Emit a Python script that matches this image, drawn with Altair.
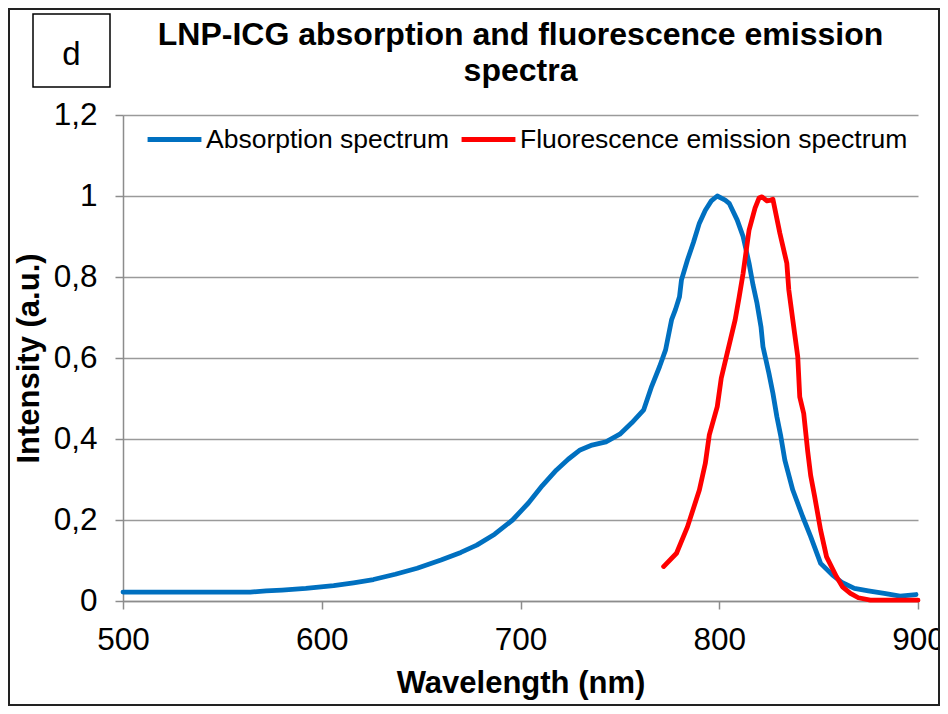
import altair as alt
import pandas as pd

# ---- data ----
abs_wl = [500, 520, 540, 564, 572, 580, 592, 606, 616, 626, 637, 648, 660, 670, 678,
          687, 696, 704, 711, 718, 724, 730, 736, 743, 750, 756, 762, 766, 770, 773,
          776, 778, 780, 781, 784, 787, 790, 793, 796, 799, 803, 805, 809, 812, 815,
          817, 819, 821, 822, 825, 827, 829, 831, 833, 837, 842, 846, 851, 857, 862,
          868, 875, 883, 891, 899]
abs_int = [0.022, 0.022, 0.022, 0.022, 0.025, 0.027, 0.031, 0.038, 0.045, 0.053, 0.066,
           0.081, 0.101, 0.120, 0.138, 0.165, 0.200, 0.242, 0.285, 0.323, 0.350, 0.373,
           0.385, 0.393, 0.412, 0.440, 0.472, 0.530, 0.579, 0.620, 0.694, 0.720, 0.751,
           0.793, 0.842, 0.885, 0.933, 0.965, 0.988, 1.000, 0.990, 0.982, 0.941, 0.900,
           0.834, 0.780, 0.735, 0.677, 0.628, 0.562, 0.513, 0.455, 0.406, 0.348, 0.274,
           0.208, 0.159, 0.093, 0.064, 0.045, 0.031, 0.025, 0.019, 0.012, 0.016]

fl_wl = [772, 778.5, 784, 790, 793, 795, 799, 801, 804, 808, 810, 812, 815, 818, 820,
         821.5, 824, 826, 827, 830.5, 834, 835, 837, 839.5, 840.5, 842.5, 844.5, 846,
         848, 851, 854, 859, 862, 866, 870, 876, 888, 900]
fl_int = [0.085, 0.118, 0.183, 0.274, 0.340, 0.410, 0.480, 0.550, 0.612, 0.694, 0.750,
          0.809, 0.916, 0.970, 0.995, 0.998, 0.988, 0.990, 0.992, 0.908, 0.834, 0.768,
          0.694, 0.603, 0.504, 0.463, 0.370, 0.310, 0.258, 0.175, 0.109, 0.060, 0.035,
          0.019, 0.008, 0.002, 0.002, 0.002]

series_names = ["Absorption spectrum", "Fluorescence emission spectrum"]
series_colors = ["#0070C0", "#FF0000"]
x_ticks = [500, 600, 700, 800, 900]
y_ticks = [0, 0.2, 0.4, 0.6, 0.8, 1.0, 1.2]
title_lines = ["LNP-ICG absorption and fluorescence emission", "spectra"]
panel_letter = "d"

df = pd.concat([
    pd.DataFrame({"wl": abs_wl, "val": abs_int, "series": series_names[0]}),
    pd.DataFrame({"wl": fl_wl, "val": fl_int, "series": series_names[1]}),
], ignore_index=True)
df["order"] = range(len(df))

FONT = "Liberation Sans"
W, H = 795, 486

lines = alt.Chart(df).mark_line(strokeWidth=4.8, strokeCap="round", strokeJoin="round").encode(
    x=alt.X("wl:Q", scale=alt.Scale(domain=[500, 900], nice=False, zero=False),
            axis=alt.Axis(values=x_ticks, format="d", grid=False, labelFlush=False,
                          labelOverlap=False, labelFontSize=31.5, labelPadding=15,
                          tickSize=8, title="Wavelength (nm)", titleFontSize=31,
                          titleBaseline="alphabetic", titleY=91, titleX=W / 2)),
    y=alt.Y("val:Q", scale=alt.Scale(domain=[0, 1.2], nice=False),
            axis=alt.Axis(values=y_ticks, labelExpr="replace(format(datum.value, '~g'), '.', ',')",
                          grid=True, labelFontSize=31.5, labelPadding=18, tickSize=8,
                          labelOverlap=False, labelFlush=False,
                          title="Intensity (a.u.)", titleFontSize=31, titleAngle=270,
                          titleBaseline="alphabetic", titleX=-85, titleY=H / 2,
                          titleAlign="center")),
    color=alt.Color("series:N",
                    scale=alt.Scale(domain=series_names, range=series_colors),
                    legend=alt.Legend(title=None, orient="none", direction="horizontal",
                                      legendX=22, legendY=-5, symbolType="stroke",
                                      symbolSize=2900, symbolStrokeWidth=4.8,
                                      labelFontSize=26.5, labelFont=FONT, labelOffset=2,
                                      labelLimit=1000, columnPadding=1, padding=0,
                                      labelColor="black")),
    order="order:Q",
)

deco = pd.DataFrame({"k": [0]})
base = alt.Chart(deco)

border = base.mark_rect(filled=False, stroke="#222222", strokeWidth=2).encode(
    x=alt.value(-114), x2=alt.value(816), y=alt.value(-106), y2=alt.value(590))
dbox = base.mark_rect(filled=False, stroke="#000000", strokeWidth=1.5).encode(
    x=alt.value(-90), x2=alt.value(-13), y=alt.value(-101), y2=alt.value(-28))
dtext = base.mark_text(font=FONT, fontSize=33, align="center", baseline="alphabetic",
                       color="black").encode(
    x=alt.value(-51.5), y=alt.value(-50), text=alt.value(panel_letter))
t1 = base.mark_text(font=FONT, fontSize=32, fontWeight="bold", align="center",
                    baseline="alphabetic", color="black").encode(
    x=alt.value(W / 2), y=alt.value(-70), text=alt.value(title_lines[0]))
t2 = base.mark_text(font=FONT, fontSize=32, fontWeight="bold", align="center",
                    baseline="alphabetic", color="black").encode(
    x=alt.value(W / 2), y=alt.value(-34), text=alt.value(title_lines[1]))

chart = alt.layer(lines, border, dbox, dtext, t1, t2).properties(
    width=W, height=H,
    autosize=alt.AutoSizeParams(type="none"),
    padding={"left": 115, "top": 107, "right": 22, "bottom": 105},
    background="white",
).configure_axis(
    labelFont=FONT, titleFont=FONT, labelColor="black", titleColor="black",
    titleFontWeight="bold", domainColor="#8c8c8c", domainWidth=1.5,
    tickColor="#8c8c8c", tickWidth=1.5, gridColor="#9a9a9a", gridWidth=1.5,
).configure_view(strokeOpacity=0)

chart.save("out.html", embed_options={"renderer": "svg", "actions": False})
